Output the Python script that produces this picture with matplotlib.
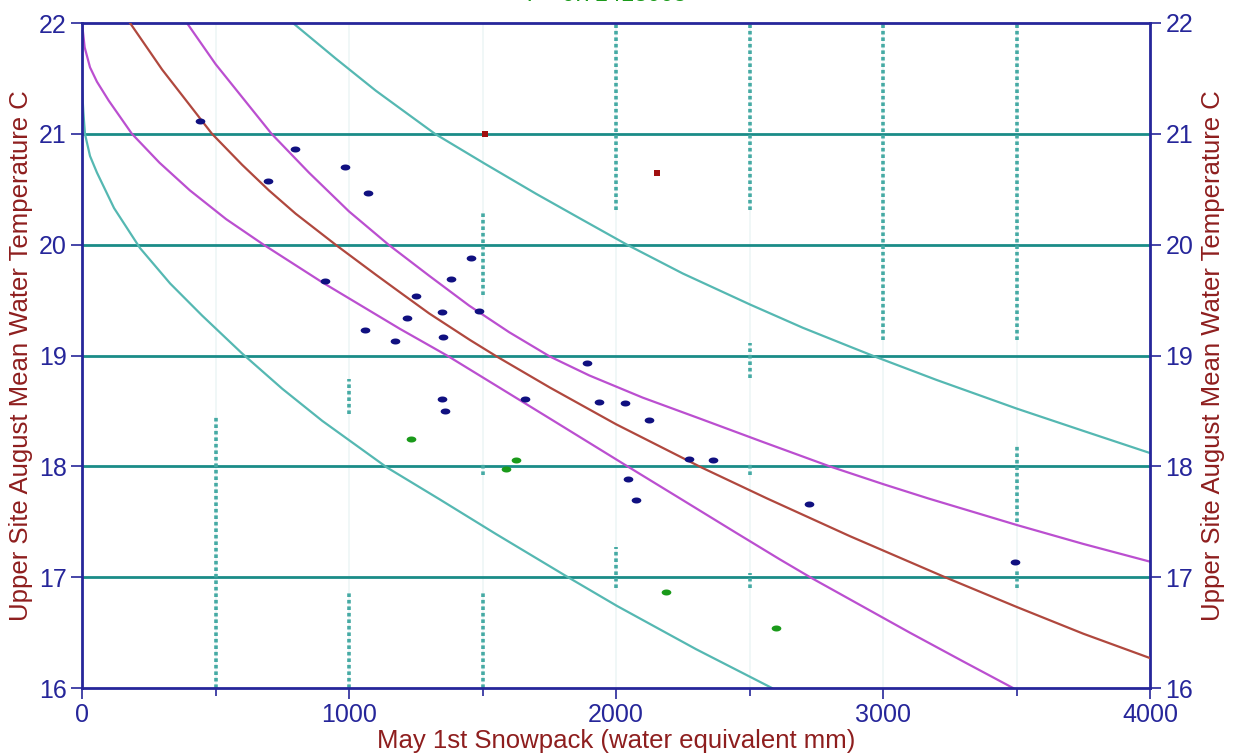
import matplotlib
matplotlib.use("Agg")
import matplotlib.pyplot as plt
import numpy as np

plt.rcParams["font.family"] = ["Liberation Sans", "DejaVu Sans"]

# observed points (snowpack mm, temperature C)
blue_x = [442, 697, 798, 985, 1071, 910, 1060, 1172, 1217, 1251, 1348, 1352, 1382, 1457,
          1487, 1348, 1360, 1659, 1891, 1936, 2034, 2124, 2045, 2075, 2273, 2363, 2723, 3494]
blue_y = [21.12, 20.57, 20.86, 20.70, 20.47, 19.67, 19.23, 19.13, 19.34, 19.54, 19.39, 19.17, 19.69, 19.88,
          19.40, 18.61, 18.50, 18.61, 18.93, 18.58, 18.57, 18.42, 17.89, 17.70, 18.07, 18.06, 17.66, 17.14]
green_x = [1232, 1588, 1625, 2187, 2599]
green_y = [18.25, 17.98, 18.06, 16.87, 16.54]
red_x = [1509, 2154]
red_y = [21.00, 20.65]

# fitted curve and bands
fit_x = [180, 300, 400, 487, 600, 700, 800, 955, 1100, 1191, 1300, 1453, 1554, 1753, 2000,
         2320, 2566, 2876, 3232, 3502, 3750, 4000]
fit_y = [22.0, 21.58, 21.27, 21.0, 20.72, 20.49, 20.28, 19.99, 19.73, 19.57, 19.38, 19.14, 18.99, 18.71, 18.38,
         17.99, 17.71, 17.37, 17.0, 16.73, 16.49, 16.27]
conf_hi_x = [393, 500, 600, 710, 850, 1000, 1148, 1300, 1450, 1600, 1753, 1900, 2100, 2315, 2550,
             2800, 3000, 3170, 3350, 3502, 3750, 4000]
conf_hi_y = [22.0, 21.63, 21.33, 21.0, 20.65, 20.30, 20.0, 19.72, 19.45, 19.21, 18.99, 18.82, 18.62, 18.43, 18.22,
             18.0, 17.84, 17.71, 17.58, 17.47, 17.30, 17.14]
conf_lo_x = [0, 10, 30, 56, 100, 187, 290, 404, 540, 680, 900, 1191, 1367, 1550, 1753, 2043, 2240,
             2450, 2614, 2734, 2876, 3100, 3300, 3487]
conf_lo_y = [22.0, 21.78, 21.6, 21.47, 21.3, 21.0, 20.74, 20.49, 20.23, 20.0, 19.66, 19.24, 19.0, 18.73, 18.43,
             18.0, 17.71, 17.40, 17.16, 16.99, 16.80, 16.50, 16.24, 16.0]
pred_hi_x = [790, 950, 1100, 1191, 1322, 1509, 1700, 1870, 2041, 2250, 2502, 2700, 2876, 2970, 3200,
             3502, 3750, 4000]
pred_hi_y = [22.0, 21.68, 21.39, 21.23, 21.0, 20.73, 20.46, 20.23, 20.0, 19.74, 19.46, 19.25, 19.08, 18.99, 18.78,
             18.52, 18.32, 18.12]
pred_lo_x = [0, 5, 11, 30, 56, 120, 217, 330, 450, 599, 750, 900, 1142, 1341, 1550, 1820, 2004, 2300, 2584]
pred_lo_y = [21.42, 21.2, 21.0, 20.8, 20.65, 20.33, 19.97, 19.65, 19.36, 19.02, 18.70, 18.41, 17.99, 17.70,
             17.39, 17.0, 16.74, 16.35, 16.0]

# dotted vertical segments
seg_x = [500, 1000, 1000, 1500, 1500, 1500, 2000, 2000, 2500, 2500, 2500, 2500, 3000, 3500, 3500, 3500]
seg_lo = [16.0, 18.47, 16.0, 19.55, 17.92, 16.0, 20.31, 16.90, 20.31, 18.80, 17.92, 16.90, 19.14, 19.14, 17.50, 16.90]
seg_hi = [18.46, 18.79, 16.86, 20.29, 18.03, 16.86, 22.0, 17.27, 22.0, 19.11, 18.03, 17.04, 22.0, 22.0, 18.19, 17.06]

navy = "#26269a"
dark_red = "#8e1e1e"
teal_grid = "#1a8c88"
teal_curve = "#55b8b2"

# small flat ellipse used for the data points
t = np.linspace(0, 2 * np.pi, 24)
ellipse = list(zip(np.cos(t), 0.62 * np.sin(t)))

fig = plt.figure(figsize=(12.33, 7.53), dpi=100)
ax = fig.add_axes([82 / 1233, 65 / 753, 1068 / 1233, 665 / 753])

for xv in [500, 1000, 1500, 2000, 2500, 3000, 3500]:
    ax.axvline(xv, color="#eef6f6", lw=1.2, zorder=0)
for yv in [17, 18, 19, 20, 21]:
    ax.axhline(yv, color=teal_grid, lw=2, zorder=1)
ax.vlines(seg_x, seg_lo, seg_hi, colors="#45aaa4", lw=2.6, linestyles=(0, (1, 0.8)), zorder=1)

ax.plot(pred_hi_x, pred_hi_y, color=teal_curve, lw=1.6, zorder=2)
ax.plot(pred_lo_x, pred_lo_y, color=teal_curve, lw=1.6, zorder=2)
ax.plot(conf_hi_x, conf_hi_y, color="#bb4fd0", lw=1.6, zorder=2)
ax.plot(conf_lo_x, conf_lo_y, color="#bb4fd0", lw=1.6, zorder=2)
ax.plot(fit_x, fit_y, color="#b0483e", lw=1.6, zorder=3)

ax.plot(blue_x, blue_y, ls="none", marker=ellipse, color="#101080", ms=7, mew=0, zorder=4)
ax.plot(green_x, green_y, ls="none", marker=ellipse, color="#1a9a1a", ms=7, mew=0, zorder=4)
ax.plot(red_x, red_y, "s", color="#a01010", ms=4, mew=0, zorder=4)

ax.set_xlim(0, 4000)
ax.set_ylim(16, 22)
ax.set_xticks([0, 1000, 2000, 3000, 4000])
ax.set_xticks([500, 1500, 2500, 3500], minor=True)
ax.set_yticks([16, 17, 18, 19, 20, 21, 22])
for s in ax.spines.values():
    s.set_color(navy)
    s.set_linewidth(2)
ax.tick_params(axis="both", colors=navy, labelsize=18, length=8, width=1.2, pad=3)
ax.tick_params(axis="x", which="minor", colors=navy, length=6, width=1.2)
ax.set_xlabel("May 1st Snowpack (water equivalent mm)", color=dark_red, fontsize=18.5, labelpad=1)
ax.set_ylabel("Upper Site August Mean Water Temperature C", color=dark_red, fontsize=18.5, labelpad=4)

ax2 = ax.twinx()
ax2.set_ylim(16, 22)
ax2.set_yticks([16, 17, 18, 19, 20, 21, 22])
ax2.tick_params(axis="y", colors=navy, labelsize=18, length=8, width=1.2, pad=3)
for s in ax2.spines.values():
    s.set_visible(False)
ax2.set_ylabel("Upper Site August Mean Water Temperature C", color=dark_red, fontsize=18.5, labelpad=6)

# statistic label, mostly cut off by the top edge as in the source image
fig.text(527 / 1233, 1.0 - 6 / 753, "r = 0.71413005", color="#1a9a1a", fontsize=17, va="bottom")

fig.savefig("out.png", dpi=100)
